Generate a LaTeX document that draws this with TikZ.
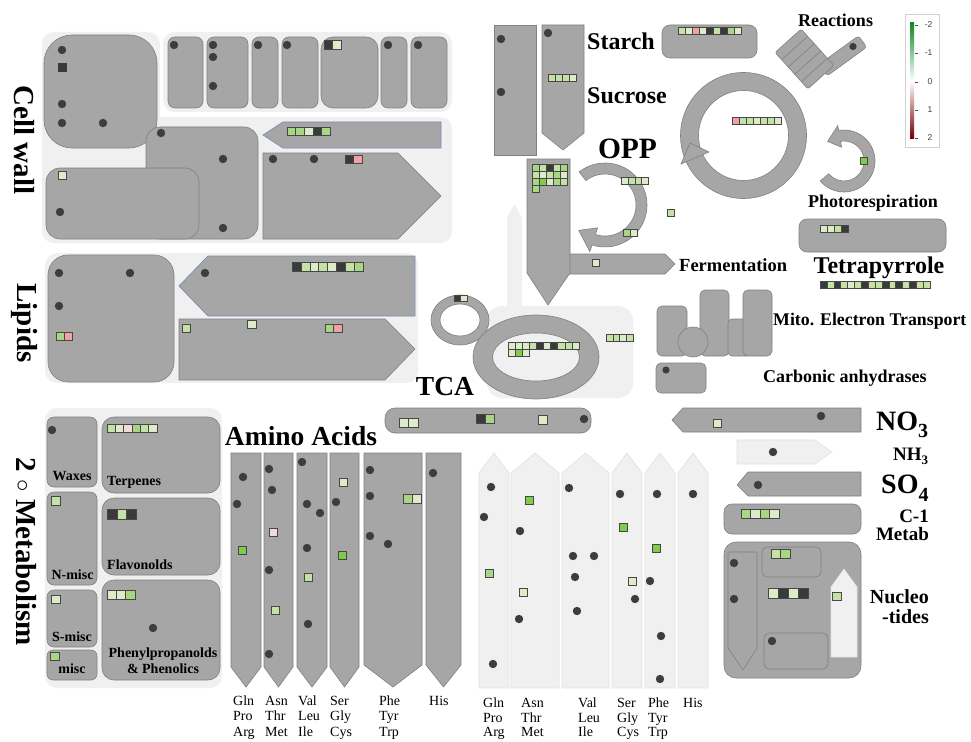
\documentclass[tikz,border=0pt]{standalone}
\usepackage{fontspec}
\setmainfont{Liberation Serif}
\newfontfamily\lsans{Liberation Sans}
\definecolor{shp}{HTML}{A6A6A6}
\definecolor{shpb}{HTML}{808080}
\definecolor{pan}{HTML}{F0F0F0}
\definecolor{panb}{HTML}{E2E2E2}
\definecolor{dotc}{HTML}{3D3D3D}
\definecolor{sqb}{HTML}{474747}
\definecolor{ga}{HTML}{DDEBC8}
\definecolor{gb}{HTML}{C5E2A6}
\definecolor{gc}{HTML}{A9D684}
\definecolor{gd}{HTML}{7FCB4A}
\definecolor{dk}{HTML}{3A3A3A}
\definecolor{pk}{HTML}{F2A0A5}
\definecolor{pp}{HTML}{F3DADB}
\definecolor{blu}{HTML}{7A8DB3}
\definecolor{legb}{HTML}{D0D0D0}
\definecolor{lgr}{HTML}{0E8A22}
\definecolor{lrd}{HTML}{7A0000}
\tikzset{
  gbox/.style={fill=shp, draw=shpb, line width=0.6pt},
  barr/.style={fill=shp, draw=blu, line width=0.7pt},
  larr/.style={fill=pan, draw=panb, line width=0.6pt},
  vlab/.style={font=\bfseries\fontsize{29}{29}\selectfont, inner sep=0pt, rotate=-90},
  mlab/.style={font=\bfseries\fontsize{14}{14}\selectfont, inner sep=0pt},
  aal/.style={font=\fontsize{14}{14}\selectfont, inner sep=0pt, anchor=base west},
  tlab/.style={font=\bfseries\fontsize{#1}{#1}\selectfont, inner sep=0pt},
}
\newcommand{\mdot}[2]{\fill[dotc] (#1,#2) circle [radius=4.2pt];}
\newcommand{\msqrow}[4]{\foreach \cc [count=\ii from 0] in {#4}{\filldraw[fill=\cc, draw=sqb, line width=0.5pt] ({#1+\ii*#3},{#2}) rectangle ++(#3,#3);}}
\newcommand{\msqc}[3]{\filldraw[fill=#3, draw=sqb, line width=0.5pt] ({#1-4},{#2-4}) rectangle ++(8,8);}
\begin{document}
\begin{tikzpicture}[x=1pt,y=-1pt]
\useasboundingbox (0,0) rectangle (971,741);
\fill[white] (0,0) rectangle (971,741);

% ================= Cell wall =================
\fill[pan, rounded corners=12pt] (42,32) rectangle (160,243);
\fill[pan, rounded corners=12pt] (163,32) rectangle (452,112);
\fill[pan, rounded corners=12pt] (42,117) rectangle (452,243);
\draw[gbox, rounded corners=28pt] (44,35) rectangle (157,148);
\mdot{62}{50} \mdot{62}{104} \mdot{62}{123} \mdot{103}{123}
\fill[dk] (57.5,63.5) rectangle ++(9,9);
\foreach \a/\b in {168/203, 207/248, 252/278, 282/318, 381/407, 411/447}
  {\draw[gbox, rounded corners=7pt] (\a,37) rectangle (\b,108);}
\draw[gbox, rounded corners=12pt] (321,37) rectangle (378,108);
\mdot{174}{45} \mdot{213}{45} \mdot{213}{57} \mdot{213}{86} \mdot{258}{45} \mdot{287}{45} \mdot{388}{45} \mdot{418}{45}
\msqrow{324}{40.5}{8.5}{dk,ga}
\draw[gbox, rounded corners=14pt] (146,127) rectangle (258,239);
\mdot{161}{133} \mdot{223}{159} \mdot{223}{228}
\draw[gbox, rounded corners=14pt] (46,168) rectangle (199,239);
\msqrow{58}{171}{8}{ga}
\mdot{60}{212}
\draw[barr] (263,135) -- (283,122) -- (441,122) -- (441,148) -- (283,148) -- cycle;
\msqrow{287}{127}{8.6}{gc,gc,ga,dk,gc}
\draw[gbox] (263,153) -- (398,153) -- (441,196) -- (398,239) -- (263,239) -- cycle;
\mdot{273}{159} \mdot{314}{159}
\msqrow{345}{155}{8.5}{dk,pk}
\node[vlab] (cellwall) at (24,140) {Cell wall};

% ================= Lipids =================
\fill[pan, rounded corners=12pt] (45,253) rectangle (418,383);
\draw[gbox, rounded corners=20pt] (48,255) rectangle (174,382);
\mdot{59}{273} \mdot{130}{273} \mdot{59}{306}
\msqrow{56}{332}{8}{gc,pk}
\draw[barr] (179,286) -- (208,256) -- (415,256) -- (415,316) -- (208,316) -- cycle;
\mdot{205}{273}
\msqrow{292}{262}{8.9}{dk,gb,ga,gb,ga,dk,gb,gc}
\draw[gbox] (179,319) -- (385,319) -- (415,349) -- (385,380) -- (179,380) -- cycle;
\msqrow{182}{324}{8.5}{gb}
\msqrow{247.5}{320}{8.5}{ga}
\msqrow{325}{324}{8.5}{gc,pk}
\node[vlab] (lipids) at (24,323) {Lipids};

% ================= Secondary metabolism =================
\fill[pan, rounded corners=12pt] (45,408) rectangle (222,688);
\draw[gbox, rounded corners=7pt] (47,417) rectangle (97,487);
\draw[gbox, rounded corners=7pt] (47,492) rectangle (97,585);
\draw[gbox, rounded corners=7pt] (47,590) rectangle (97,647);
\draw[gbox, rounded corners=6pt] (47,650) rectangle (97,680);
\draw[gbox, rounded corners=12pt] (102,417) rectangle (220,493);
\draw[gbox, rounded corners=12pt] (102,498) rectangle (220,575);
\draw[gbox, rounded corners=12pt] (102,580) rectangle (220,680);
\mdot{52}{430}
\msqrow{51.5}{496.5}{8.5}{gb}
\msqrow{51.5}{595}{8.5}{ga}
\msqrow{50.5}{652}{8.5}{gc}
\msqrow{107}{424}{8.3}{gb,ga,pp,gc,gb,ga}
\msqrow{107}{509}{9.8}{dk,gb,dk}
\msqrow{107}{590}{9.3}{ga,ga,gc}
\mdot{153}{628}
\node[mlab, anchor=base] (waxes) at (72,480) {Waxes};
\node[mlab, anchor=base] (nmisc) at (72.5,579) {N-misc};
\node[mlab, anchor=base] (smisc) at (72,641) {S-misc};
\node[mlab, anchor=base] (misc) at (72,673) {misc};
\node[mlab, anchor=base west] (terp) at (107,485) {Terpenes};
\node[mlab, anchor=base west] (flav) at (107,569) {Flavonolds};
\node[mlab, anchor=base] (phen1) at (163,657) {Phenylpropanolds};
\node[mlab, anchor=base] (phen2) at (163,673) {\& Phenolics};
\node[vlab] (secmet) at (26,552) {2 $\circ$ Metabolism};

% ================= Amino acids (left) =================
\node[tlab=27.5, anchor=base] (aatitle) at (301,445) {Amino Acids};
\foreach \a/\b/\s in {231/261/667, 264/293/667, 297/327/667, 330/359/667, 364/422/665, 426/461/665}
  {\draw[gbox] (\a,453) -- (\b,453) -- (\b,\s) -- ({(\a+\b)/2},687) -- (\a,\s) -- cycle;}
\mdot{243}{477} \mdot{237}{504} \msqc{242}{550}{gd}
\mdot{269}{469} \mdot{272}{490} \msqc{273}{532}{pp} \mdot{269}{570} \msqc{275}{610}{gb} \mdot{269}{654}
\mdot{302}{462} \mdot{307}{504} \mdot{320}{513} \mdot{307}{548} \msqc{308}{577}{gb} \mdot{308}{624}
\msqc{343}{482}{ga} \mdot{336}{502} \msqc{342}{555}{gd}
\mdot{370}{470} \mdot{370}{496} \mdot{370}{536} \mdot{388}{544}
\msqrow{403}{494}{9}{gc,ga}
\mdot{433}{473}
\foreach \x/\p/\q/\r [count=\k] in {233/Gln/Pro/Arg, 265/Asn/Thr/Met, 298/Val/Leu/Ile, 330/Ser/Gly/Cys, 379/Phe/Tyr/Trp}
  {\node[aal] (la\k-a) at (\x,705) {\p};
   \node[aal] (la\k-b) at (\x,720.5) {\q};
   \node[aal] (la\k-c) at (\x,736) {\r};}
\node[aal] (la6) at (429,705) {His};

% ================= Amino acids (right, light) =================
\foreach \a/\b in {479/509, 511/559, 562/609, 612/642, 645/675, 678/708}
  {\draw[larr] (\a,688) -- (\a,473) -- ({(\a+\b)/2},453) -- (\b,473) -- (\b,688) -- cycle;}
\mdot{491}{487} \mdot{484}{517} \msqc{489}{573}{gc} \mdot{493}{664}
\msqc{529}{500}{gd} \mdot{520}{531} \msqc{523}{592}{ga} \mdot{519}{619}
\mdot{569}{488} \mdot{573}{556} \mdot{594}{556} \mdot{575}{577} \mdot{577}{611}
\mdot{620}{494} \msqc{623}{527}{gd} \msqc{632}{581}{ga} \mdot{635}{599}
\mdot{657}{494} \msqc{656}{548}{gd} \mdot{650}{581} \mdot{661}{636} \mdot{660}{679}
\mdot{693}{494}
\foreach \x/\p/\q/\r [count=\k] in {483/Gln/Pro/Arg, 521/Asn/Thr/Met, 578/Val/Leu/Ile, 617/Ser/Gly/Cys, 648/Phe/Tyr/Trp}
  {\node[aal] (lb\k-a) at (\x,707) {\p};
   \node[aal] (lb\k-b) at (\x,722) {\q};
   \node[aal] (lb\k-c) at (\x,736.5) {\r};}
\node[aal] (lb6) at (683,707) {His};

% ================= Starch / Sucrose / OPP =================
\draw[gbox] (494,25) rectangle (536,155);
\mdot{501}{39} \mdot{501}{92}
\draw[gbox] (542,25) -- (584,25) -- (584,133) -- (563,150) -- (542,133) -- cycle;
\mdot{548}{33}
\msqrow{548.5}{74}{7}{gb,gb,gb,ga}
\node[tlab=24, anchor=base west] (starch) at (587,50) {Starch};
\node[tlab=24, anchor=base west] (sucrose) at (587,103) {Sucrose};
\node[tlab=29.5, anchor=base] (opp) at (627.5,158) {OPP};
\draw[gbox, rounded corners=8pt] (662,25) rectangle (757,58);
\msqrow{678}{27.5}{7}{gb,ga,pk,ga,dk,gb,dk,gc,ga}

% light up arrow behind TCA
\fill[pan] (507,310) -- (507,218) -- (514.5,204) -- (522,218) -- (522,310) -- cycle;

% fermentation arm and OPP box
\draw[gbox] (560,254) -- (665,254) -- (675,264) -- (665,274) -- (560,274) -- cycle;
\msqrow{592}{259}{7}{ga}
\draw[gbox] (527,159) -- (570,159) -- (570,273) -- (548,305) -- (527,273) -- cycle;
\msqrow{532}{164}{7}{gc,gb,dk,gb,gc}
\msqrow{532}{171}{7}{gb,ga,gb,gc,ga}
\msqrow{532}{178}{7}{gc,gd,ga,gc,gb}
\msqrow{532}{185}{7}{gc}
\node[tlab=18.5, anchor=base west] (ferm) at (679,271) {Fermentation};

% OPP circular arrow
\begin{scope}[shift={(605,205)}, yscale=-1]
\draw[gbox] (128:42) arc[start angle=128, end angle=-108, radius=42] -- (-108:49) -- (-136:36.5) -- (-108:24) -- (-108:31) arc[start angle=-108, end angle=128, radius=31] -- cycle;
\end{scope}
\msqrow{621.5}{177.5}{6.7}{ga,gb,gb,ga}
\msqrow{623}{229}{7}{gc,ga}
\msqrow{667}{209}{7}{gb}

% ================= Calvin cycle ring =================
\path[gbox, even odd rule] (743.5,135.5) circle [radius=63pt] circle [radius=45pt];
\draw[gbox] (690,143) -- (709,152) -- (681,164) -- cycle;
\msqrow{732}{117}{7.1}{pk,gb,gb,ga,gb,gb,ga}

% ================= Reactions =================
\begin{scope}[shift={(844,55)}, rotate=36]
\draw[gbox, rounded corners=3pt] (-26,-7) rectangle (23,7);
\end{scope}
\begin{scope}[shift={(804.5,59)}, rotate=42]
\draw[gbox, rounded corners=2pt] (-17.5,-24.5) rectangle (17.5,24.5);
\foreach \yy in {-14.7,-4.9,4.9,14.7} {\draw[shpb, line width=0.6pt] (-17.5,\yy) -- (17.5,\yy);}
\end{scope}
\fill[dotc] (853,46.5) circle [radius=3.6pt];
\node[tlab=18, anchor=base] (reactions) at (835.5,27) {Reactions};

% ================= Legend =================
\draw[legb, fill=white, line width=0.6pt] (905,14) rectangle (939,147);
\shade[top color=lgr, bottom color=white] (910,23) rectangle (914,81);
\shade[top color=white, bottom color=lrd] (910,81) rectangle (914,138);
\foreach \yy/\lv [count=\k] in {25/-2, 53/-1, 82/0, 110/1, 138/2}
  {\draw[black!70, line width=0.4pt] (915,\yy) -- (917.5,\yy);
   \node[font=\lsans\fontsize{8.5}{8.5}\selectfont, anchor=east, inner sep=0pt, text=black!75] (leg\k) at (932.5,\yy) {\lv};}

% ================= Photorespiration =================
\begin{scope}[shift={(844,161)}, yscale=-1]
\draw[gbox] (-140:31) arc[start angle=-140, end angle=100, radius=31] -- (100:36) -- (130:25.5) -- (100:14) -- (100:20) arc[start angle=100, end angle=-140, radius=20] -- cycle;
\end{scope}
\msqrow{860}{157.5}{7}{gd}
\node[tlab=18, anchor=base] (photo) at (873,207) {Photorespiration};
\draw[gbox, rounded corners=8pt] (799,219) rectangle (946,252);
\msqrow{820}{225}{7}{ga,ga,gb,dk}
\node[tlab=24, anchor=base] (tetra) at (879,273.5) {Tetrapyrrole};
\msqrow{820}{281}{6.875}{dk,gb,dk,gb,ga,gb,dk,gb,gb,dk,gb,dk,gb,dk,gb,gb}

% ================= Mito =================
\draw[gbox, rounded corners=5pt] (657,306) rectangle (687,356);
\draw[gbox, rounded corners=5pt] (700,290) rectangle (729,356);
\draw[gbox] (693,342) circle [radius=15pt];
\draw[gbox, rounded corners=4pt] (728,319) rectangle (751,356);
\draw[gbox, rounded corners=5pt] (743,290) rectangle (772,356);
\node[tlab=17.8, anchor=base west] (mito) at (773,325) {Mito. Electron Transport};
\draw[gbox, rounded corners=5pt] (656,363) rectangle (706,393);
\fill[dotc] (666,370) circle [radius=3.6pt];
\node[tlab=18, anchor=base west] (carb) at (763,382) {Carbonic anhydrases};

% ================= TCA =================
\fill[pan, rounded corners=15pt] (487,306) rectangle (633,398);
\path[gbox, even odd rule] (460,320) ellipse [x radius=29pt, y radius=25pt] ellipse [x radius=20pt, y radius=16pt];
\msqrow{454}{295}{6.7}{dk,ga}
\path[gbox, even odd rule] (536,357) ellipse [x radius=63pt, y radius=42pt] ellipse [x radius=43.5pt, y radius=24pt];
\msqrow{508}{342}{7.1}{ga,ga,ga,gb,dk,ga,dk,gb,gb,ga}
\msqrow{508}{349.1}{7.1}{ga,gd,ga}
\msqrow{606}{334}{6.8}{gb,gb,ga,gb}
\node[tlab=27.5, anchor=base] (tca) at (445,395) {TCA};
\draw[gbox, rounded corners=10pt] (385,408) rectangle (591,433);
\msqrow{399}{418}{9.5}{ga,ga}
\msqrow{476}{414}{9}{dk,gc}
\msqrow{538}{415}{9.5}{ga}
\mdot{584}{419}

% ================= N / S / C1 / Nucleotides =================
\draw[gbox] (672,420) -- (683,408) -- (861,408) -- (861,432) -- (683,432) -- cycle;
\msqc{717}{423}{ga}
\mdot{821}{416}
\node[tlab=28, anchor=base west] (no3) at (876,430) {NO\raisebox{-7pt}{\fontsize{20}{20}\selectfont 3}};
\draw[larr] (737,440) -- (815,440) -- (832,452) -- (815,464) -- (737,464) -- cycle;
\mdot{773}{452}
\node[tlab=19, anchor=base west] (nh3) at (893,460) {NH\raisebox{-4pt}{\fontsize{13}{13}\selectfont 3}};
\draw[gbox] (737,485) -- (748,472) -- (861,472) -- (861,496) -- (748,496) -- cycle;
\mdot{758}{485}
\node[tlab=28, anchor=base west] (so4) at (881,493) {SO\raisebox{-8pt}{\fontsize{20}{20}\selectfont 4}};
\draw[gbox, rounded corners=8pt] (724,504) rectangle (861,534);
\msqrow{741}{509}{9.5}{gc,ga,gc,ga}
\node[tlab=19, anchor=base east] (c1) at (929,522) {C-1};
\node[tlab=19, anchor=base east] (metab) at (929,540) {Metab};
\draw[gbox, rounded corners=12pt] (724,542) rectangle (861,678);
\draw[gbox] (728,552) -- (757,552) -- (757,648) -- (743,670) -- (728,648) -- cycle;
\mdot{734}{563} \mdot{734}{599}
\draw[gbox, rounded corners=5pt] (762,547) rectangle (821,577);
\msqrow{771}{549}{9.5}{gb,gc}
\msqrow{768}{588}{10}{ga,dk,ga,dk}
\draw[gbox, rounded corners=6pt] (764,633) rectangle (828,669);
\mdot{772}{641}
\draw[larr] (831,657) -- (831,587) -- (844,569) -- (857,587) -- (857,657) -- cycle;
\msqrow{832.5}{592}{8.5}{gb}
\node[tlab=20, anchor=base east] (nuc1) at (929,603) {Nucleo};
\node[tlab=20, anchor=base east] (nuc2) at (929,623) {-tides};
\end{tikzpicture}
\end{document}
